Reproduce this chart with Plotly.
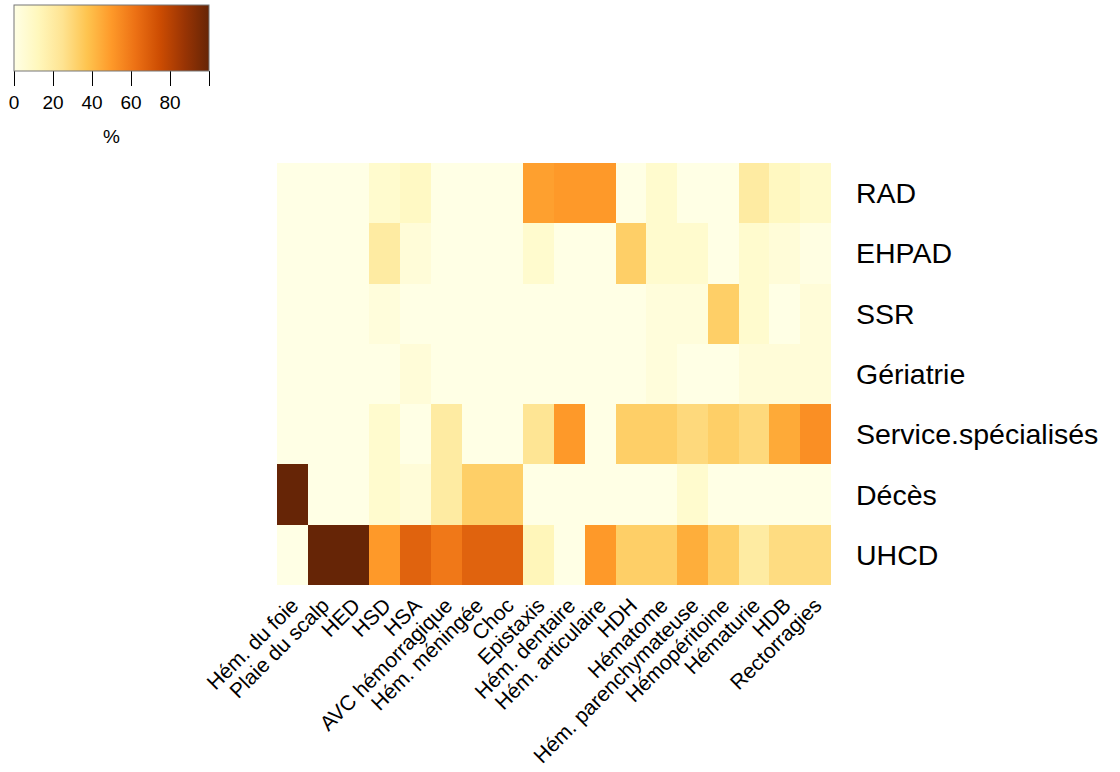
import plotly.graph_objects as go

categories = ["Hém. du foie", "Plaie du scalp", "HED", "HSD", "HSA", "AVC hémorragique",
              "Hém. méningée", "Choc", "Epistaxis", "Hém. dentaire", "Hém. articulaire",
              "HDH", "Hématome", "Hém. parenchymateuse", "Hémopéritoine", "Hématurie",
              "HDB", "Rectorragies"]

destinations = ["RAD", "EHPAD", "SSR", "Gériatrie", "Service.spécialisés", "Décès", "UHCD"]

rad       = [0, 0, 0, 7, 10, 0, 0, 0, 48, 50, 50, 0, 7, 0, 0, 20, 11, 8]
ehpad     = [0, 0, 0, 20, 4, 0, 0, 0, 7, 0, 0, 33, 7, 7, 0, 7, 4, 1]
ssr       = [0, 0, 0, 3, 0, 0, 0, 0, 0, 0, 0, 0, 3, 3, 33, 7, 0, 4]
geriatrie = [0, 0, 0, 0, 4, 0, 0, 0, 0, 0, 0, 0, 3, 0, 0, 4, 4, 4]
service   = [0, 0, 0, 7, 0, 20, 0, 0, 24, 50, 0, 33, 33, 29, 33, 29, 45, 53]
deces     = [100, 0, 0, 7, 4, 20, 33, 33, 0, 0, 0, 0, 0, 7, 0, 0, 0, 0]
uhcd      = [0, 100, 100, 50, 67, 60, 67, 67, 13, 0, 50, 33, 33, 44, 33, 20, 28, 28]

z = [rad, ehpad, ssr, geriatrie, service, deces, uhcd]

colorbar_ticks = [0, 20, 40, 60, 80, 100]
colorbar_ticktext = ["0", "20", "40", "60", "80", ""]

ylorbr = ["#ffffe5", "#fff7bc", "#fee391", "#fec44f", "#fe9929",
          "#ec7014", "#cc4c02", "#993404", "#662506"]
colorscale = [[i / (len(ylorbr) - 1), c] for i, c in enumerate(ylorbr)]

W, H = 1120, 772
L, R, T, B = 277, 1120 - 831, 163, 772 - 585
pw, ph = W - L - R, H - T - B

fig = go.Figure(go.Heatmap(
    z=z, x=categories, y=destinations,
    colorscale=colorscale, zmin=0, zmax=100,
    colorbar=dict(
        orientation="h",
        x=(111.5 - L) / pw, xanchor="center",
        y=(H - B - 5) / ph, yanchor="top",
        len=195, lenmode="pixels",
        thickness=66, thicknessmode="pixels",
        tickvals=colorbar_ticks,
        ticktext=colorbar_ticktext,
        ticks="outside", ticklen=15, tickwidth=1, tickcolor="black",
        tickfont=dict(size=19, color="black"),
        title=dict(text="", side="bottom"),
        outlinewidth=1, outlinecolor="#777",
        xpad=0, ypad=0,
    ),
    hovertemplate="%{x}<br>%{y}: %{z}%<extra></extra>",
))

fig.add_annotation(
    text="%", xref="paper", yref="paper",
    x=(111.5 - L) / pw, y=(H - B - 137) / ph,
    xanchor="center", yanchor="middle", showarrow=False,
    font=dict(size=19, color="black"),
)

fig.update_layout(
    width=W, height=H,
    margin=dict(l=L, r=R, t=T, b=B, pad=0, autoexpand=False),
    paper_bgcolor="white", plot_bgcolor="white",
    font=dict(family="Liberation Sans, Arial, Helvetica, sans-serif", color="black"),
    xaxis=dict(tickangle=-45, tickfont=dict(size=21), showgrid=False, zeroline=False,
               ticks="", showline=False, ticklabelstandoff=3),
    yaxis=dict(side="right", autorange="reversed", tickfont=dict(size=28.5),
               showgrid=False, zeroline=False, ticks="", showline=False,
               ticklabelstandoff=24),
)

fig.write_html("out.html", config={"displayModeBar": False},
               post_script="document.body.style.margin='0';document.body.style.padding='0';")
